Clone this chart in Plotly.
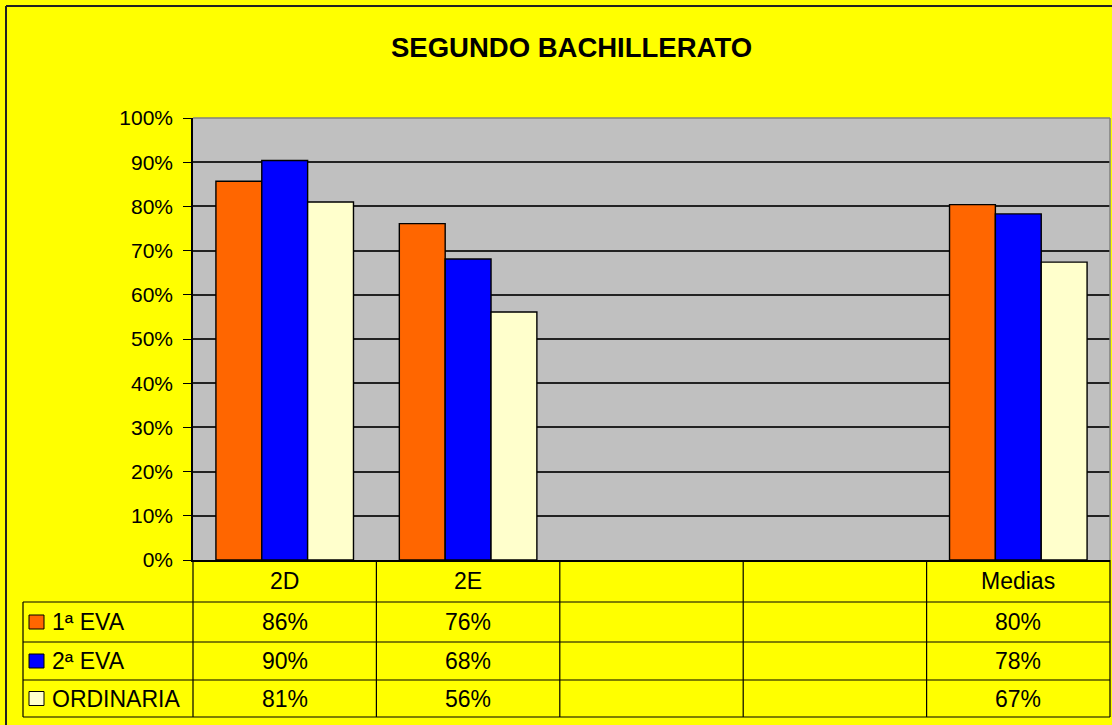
import plotly.graph_objects as go

# Datos del gráfico
categorias = ["2D", "2E", " ", "  ", "Medias"]
series = ["1ª EVA", "2ª EVA", "ORDINARIA"]
eva1 = [0.857, 0.761, None, None, 0.804]
eva2 = [0.904, 0.681, None, None, 0.783]
ordinaria = [0.810, 0.561, None, None, 0.674]
colores = ["#FF6600", "#0000FF", "#FFFFCC"]
valores = [eva1, eva2, ordinaria]

# Geometría en píxeles del área de trazado
W, H = 1112, 725
L, R, T, B = 193, 1110, 118, 560
FUENTE = "Liberation Sans, Arial, sans-serif"
TAM_TABLA = 23


def fx(p):
    return (p - L) / (R - L)


def fy(p):
    return (B - p) / (B - T)


fig = go.Figure()
for nombre, vals, col in zip(series, valores, colores):
    fig.add_trace(go.Bar(x=categorias, y=vals, name=nombre,
                         marker=dict(color=col, line=dict(color="black", width=1.4))))

shapes = []
annotations = []

# Bordes superior y derecho del área de trazado
shapes.append(dict(type="line", xref="paper", yref="paper", x0=0, x1=1, y0=1, y1=1,
                   line=dict(color="#808080", width=1.5)))
shapes.append(dict(type="line", xref="paper", yref="paper", x0=1, x1=1, y0=0, y1=1,
                   line=dict(color="#808080", width=1.5)))

# Marco exterior
shapes.append(dict(type="line", xref="paper", yref="paper", x0=fx(6), x1=fx(1130),
                   y0=fy(6), y1=fy(6), line=dict(color="#222", width=2)))
shapes.append(dict(type="line", xref="paper", yref="paper", x0=fx(6), x1=fx(6),
                   y0=fy(6), y1=fy(740), line=dict(color="#222", width=2)))

# Tabla de datos
filas = [602, 642, 680, 717]
ncat = len(categorias)
col_w = (R - L) / ncat
for i in range(ncat + 1):
    xp = L + i * col_w
    shapes.append(dict(type="line", xref="paper", yref="paper", x0=fx(xp), x1=fx(xp),
                       y0=fy(B), y1=fy(filas[-1]), line=dict(color="black", width=1.2)))
shapes.append(dict(type="line", xref="paper", yref="paper", x0=fx(23), x1=fx(23),
                   y0=fy(filas[0]), y1=fy(filas[-1]), line=dict(color="black", width=1.2)))
for yp in filas:
    shapes.append(dict(type="line", xref="paper", yref="paper", x0=fx(23), x1=1,
                       y0=fy(yp), y1=fy(yp), line=dict(color="black", width=1.2)))

# Cabecera de categorías
for i, c in enumerate(categorias):
    annotations.append(dict(x=fx(L + (i + 0.5) * col_w), y=fy((B + filas[0]) / 2),
                            xref="paper", yref="paper", text=c.strip(), showarrow=False,
                            xanchor="center", yanchor="middle",
                            font=dict(family=FUENTE, size=TAM_TABLA, color="black")))

# Filas de la serie con leyenda
for j, (nombre, vals, col) in enumerate(zip(series, valores, colores)):
    yc = (filas[j] + filas[j + 1]) / 2
    shapes.append(dict(type="rect", xref="paper", yref="paper", x0=fx(29), x1=fx(44),
                       y0=fy(yc - 7), y1=fy(yc + 7), fillcolor=col,
                       line=dict(color="black", width=1)))
    annotations.append(dict(x=fx(50), y=fy(yc), xref="paper", yref="paper", text=nombre,
                            showarrow=False, xanchor="left", yanchor="middle",
                            font=dict(family=FUENTE, size=TAM_TABLA, color="black")))
    for i, v in enumerate(vals):
        if v is None:
            continue
        annotations.append(dict(x=fx(L + (i + 0.5) * col_w), y=fy(yc), xref="paper",
                                yref="paper", text=f"{v:.0%}", showarrow=False,
                                xanchor="center", yanchor="middle",
                                font=dict(family=FUENTE, size=TAM_TABLA, color="black")))

# Título
annotations.append(dict(x=fx(571), y=fy(48), xref="paper", yref="paper",
                        text="<b>SEGUNDO BACHILLERATO</b>", showarrow=False,
                        xanchor="center", yanchor="middle",
                        font=dict(family=FUENTE, size=27.5, color="black")))

fig.update_layout(
    width=W, height=H,
    margin=dict(l=L, r=W - R, t=T, b=H - B),
    paper_bgcolor="#FFFF00",
    plot_bgcolor="#C0C0C0",
    barmode="group",
    bargap=0.25,
    bargroupgap=0,
    showlegend=False,
    shapes=shapes,
    annotations=annotations,
    font=dict(family=FUENTE, size=21, color="black"),
)
fig.update_yaxes(range=[0, 1], tickformat=".0%", dtick=0.1,
                 showgrid=True, gridcolor="#222", gridwidth=1.5,
                 ticks="outside", ticklen=8, tickcolor="black", tickwidth=1.2,
                 ticklabelstandoff=6,
                 showline=True, linecolor="black", linewidth=1.5,
                 zeroline=False, tickfont=dict(family=FUENTE, size=21, color="black"))
fig.update_xaxes(showticklabels=False, showline=True, linecolor="black", linewidth=1.5,
                 showgrid=False, ticks="")

fig.write_html("out.html", config={"displayModeBar": False},
               post_script="document.body.style.margin='0px';")
